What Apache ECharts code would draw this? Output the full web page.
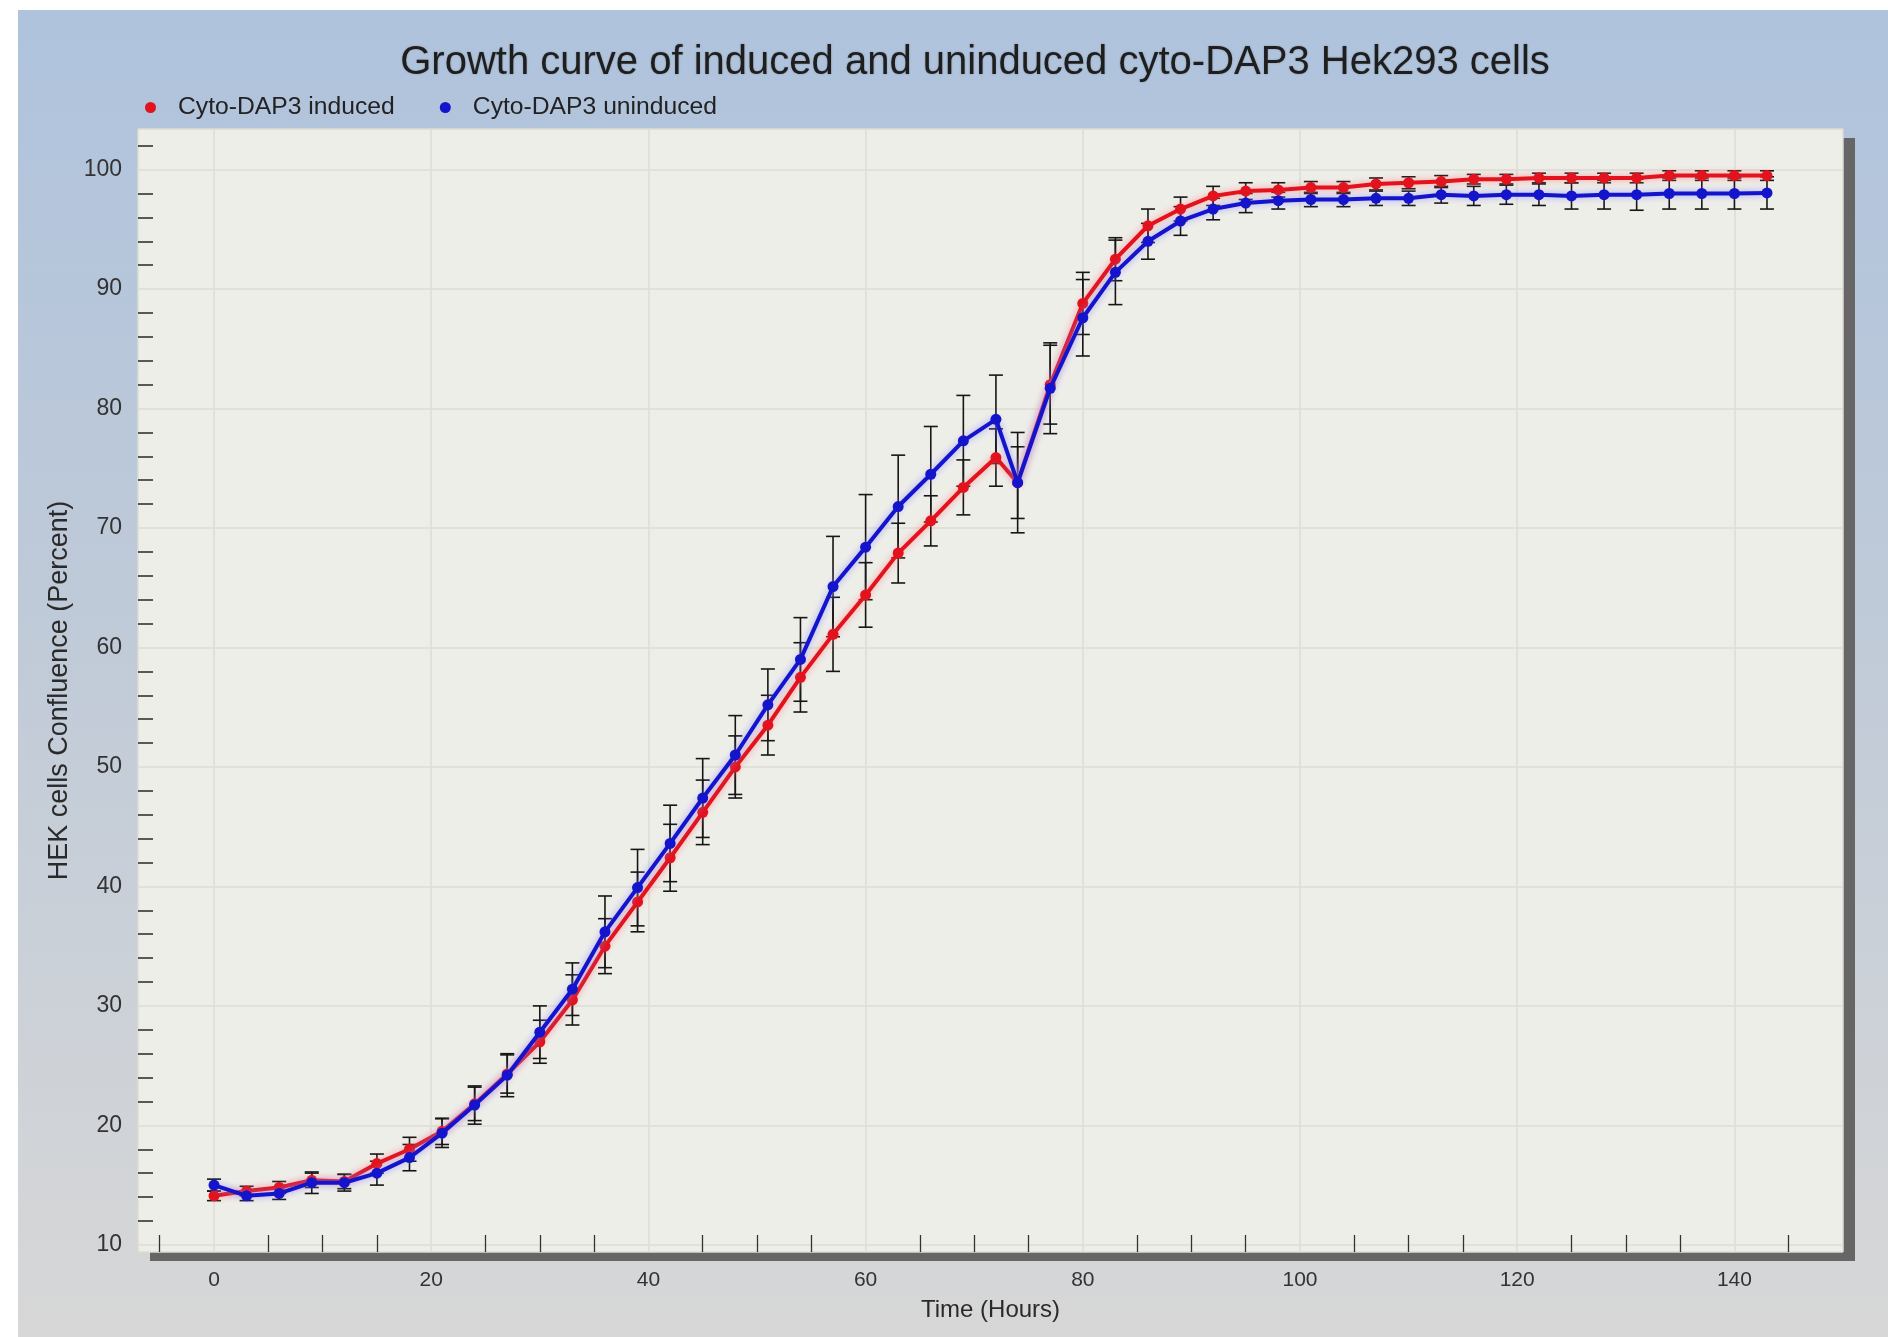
<!DOCTYPE html>
<html><head><meta charset="utf-8">
<script src="https://cdn.jsdelivr.net/npm/echarts@6.0.0/dist/echarts.min.js"></script>
<style>
html,body{margin:0;padding:0;background:#fff;width:1888px;height:1337px;overflow:hidden}
#chart{position:absolute;left:18px;top:10px;width:1870px;height:1327px}
</style>
</head><body><div id="chart"></div>
<script>
const titleText = 'Growth curve of induced and uninduced cyto-DAP3 Hek293 cells';
const seriesNames = ['Cyto-DAP3 induced', 'Cyto-DAP3 uninduced'];
const xName = 'Time (Hours)';
const yName = 'HEK cells Confluence (Percent)';

const hours = [0,3,6,9,12,15,18,21,24,27,30,33,36,39,42,45,48,51,54,57,60,63,66,69,72,74,
  77,80,83,86,89,92,95,98,101,104,107,110,113,116,119,122,125,128,131,134,137,140,143];

const induced = [14.1,14.5,14.8,15.4,15.3,16.8,18.0,19.5,21.8,24.3,27.0,30.5,35.0,38.7,42.4,46.2,50.0,53.5,57.5,61.1,64.4,67.9,70.6,73.4,75.9,73.8,
  82.0,88.8,92.5,95.3,96.7,97.8,98.2,98.3,98.5,98.5,98.8,98.9,99.0,99.2,99.2,99.3,99.3,99.3,99.3,99.5,99.5,99.5,99.5];
const inducedErr = [0.4,0.4,0.5,0.6,0.6,0.8,1.0,1.1,1.4,1.6,1.8,2.1,2.3,2.5,2.8,2.7,2.6,2.5,2.9,3.1,2.7,2.5,2.1,2.3,2.4,3.0,
  3.3,2.6,1.8,1.4,1.0,0.8,0.7,0.6,0.5,0.5,0.5,0.5,0.5,0.4,0.4,0.4,0.4,0.4,0.4,0.4,0.4,0.4,0.4];

const uninduced = [15.0,14.1,14.3,15.2,15.2,16.0,17.3,19.35,21.7,24.2,27.8,31.4,36.2,39.9,43.6,47.4,51.0,55.2,59.0,65.1,68.4,71.8,74.5,77.3,79.1,73.8,
  81.7,87.6,91.4,94.0,95.7,96.7,97.2,97.4,97.5,97.5,97.6,97.6,97.9,97.8,97.9,97.9,97.8,97.9,97.9,98.0,98.0,98.0,98.05];
const uninducedErr = [0.5,0.4,0.5,0.9,0.7,1.0,1.1,1.2,1.6,1.8,2.2,2.2,3.0,3.2,3.2,3.3,3.3,3.0,3.5,4.2,4.4,4.3,4.0,3.8,3.7,4.2,
  3.8,3.2,2.7,1.5,1.2,0.9,0.8,0.7,0.6,0.6,0.6,0.6,0.7,0.8,0.8,0.9,1.1,1.2,1.3,1.3,1.3,1.3,1.35];

const RED = '#e3121c';
const BLUE = '#1414cc';
const FONT = 'Liberation Sans, Arial, sans-serif';

function errSeries(name, vals, errs, z) {
  return {
    type: 'custom', name: name, z: z, silent: true,
    data: hours.map((h, i) => [h, vals[i] - errs[i], vals[i] + errs[i]]),
    encode: { x: 0, y: [1, 2] },
    renderItem: function (params, api) {
      const x = api.value(0);
      const lo = api.coord([x, api.value(1)]);
      const hi = api.coord([x, api.value(2)]);
      const w = 7;
      const style = { stroke: '#161616', lineWidth: 1.6 };
      return { type: 'group', children: [
        { type: 'line', shape: { x1: hi[0], y1: hi[1], x2: lo[0], y2: lo[1] }, style: style },
        { type: 'line', shape: { x1: hi[0] - w, y1: hi[1], x2: hi[0] + w, y2: hi[1] }, style: style },
        { type: 'line', shape: { x1: lo[0] - w, y1: lo[1], x2: lo[0] + w, y2: lo[1] }, style: style }
      ]};
    }
  };
}

function lineSeries(name, vals, color, glow, z) {
  return {
    type: 'line', name: name, z: z,
    data: hours.map((h, i) => [h, vals[i]]),
    symbol: 'circle', symbolSize: 11,
    itemStyle: { color: color },
    lineStyle: { color: color, width: 4, shadowColor: glow, shadowBlur: 7 },
    emphasis: { disabled: true }
  };
}

const chart = echarts.init(document.getElementById('chart'));
chart.setOption({
  animation: false,
  backgroundColor: {
    type: 'linear', x: 0, y: 0, x2: 0, y2: 1,
    colorStops: [
      { offset: 0, color: '#afc3dd' },
      { offset: 0.45, color: '#bfcad8' },
      { offset: 1, color: '#d7d7d7' }
    ]
  },
  textStyle: { fontFamily: FONT },
  title: {
    text: titleText, left: 952, top: 28, textAlign: 'center',
    textStyle: { fontFamily: FONT, fontSize: 40, fontWeight: 'normal', color: '#1e1e1e',
      textShadowColor: 'rgba(0,0,0,0.25)', textShadowBlur: 2 }
  },
  legend: {
    data: seriesNames, left: 127, top: 85, padding: 0,
    icon: 'circle', itemWidth: 11, itemHeight: 11, itemGap: 45,
    textStyle: { fontFamily: FONT, fontSize: 24.7, color: '#222', padding: [0, 0, 0, 17] }
  },
  grid: {
    left: 120, top: 119, width: 1705, height: 1123,
    show: true, backgroundColor: '#eeeee9', borderWidth: 0,
    shadowColor: '#666666', shadowOffsetX: 12, shadowOffsetY: 9, shadowBlur: 0
  },
  xAxis: {
    type: 'value', min: -7, max: 150, splitNumber: 8,
    name: xName, nameLocation: 'middle', nameGap: 46,
    nameTextStyle: { fontFamily: FONT, fontSize: 24, color: '#2a2a2a' },
    axisLine: { show: false, onZero: false },
    axisTick: { show: false, inside: true },
    minorTick: { show: true, splitNumber: 4, length: 17, lineStyle: { color: '#333', width: 1.3 } },
    axisLabel: { fontFamily: FONT, fontSize: 21, color: '#333', margin: 18, showMinLabel: false, showMaxLabel: false },
    splitLine: { show: true, lineStyle: { color: '#dcdcd5', width: 1.5 } }
  },
  yAxis: {
    type: 'value', min: 9.4, max: 103.4, splitNumber: 9,
    name: yName, nameLocation: 'middle', nameGap: 64.5, nameRotate: 90,
    nameTextStyle: { fontFamily: FONT, fontSize: 27, color: '#2a2a2a' },
    axisLine: { show: false, onZero: false },
    axisTick: { show: false, inside: true },
    minorTick: { show: true, splitNumber: 5, length: 15, lineStyle: { color: '#333', width: 1.6 } },
    axisLabel: { fontFamily: FONT, fontSize: 23, color: '#333', margin: 16, showMinLabel: false, showMaxLabel: false },
    splitLine: { show: true, lineStyle: { color: '#dcdcd5', width: 1.5 } }
  },
  series: [
    errSeries('induced error', induced, inducedErr, 1),
    errSeries('uninduced error', uninduced, uninducedErr, 1),
    lineSeries(seriesNames[0], induced, RED, 'rgba(255,130,130,0.8)', 3),
    lineSeries(seriesNames[1], uninduced, BLUE, 'rgba(140,140,255,0.8)', 4)
  ]
});
</script>
</body></html>
